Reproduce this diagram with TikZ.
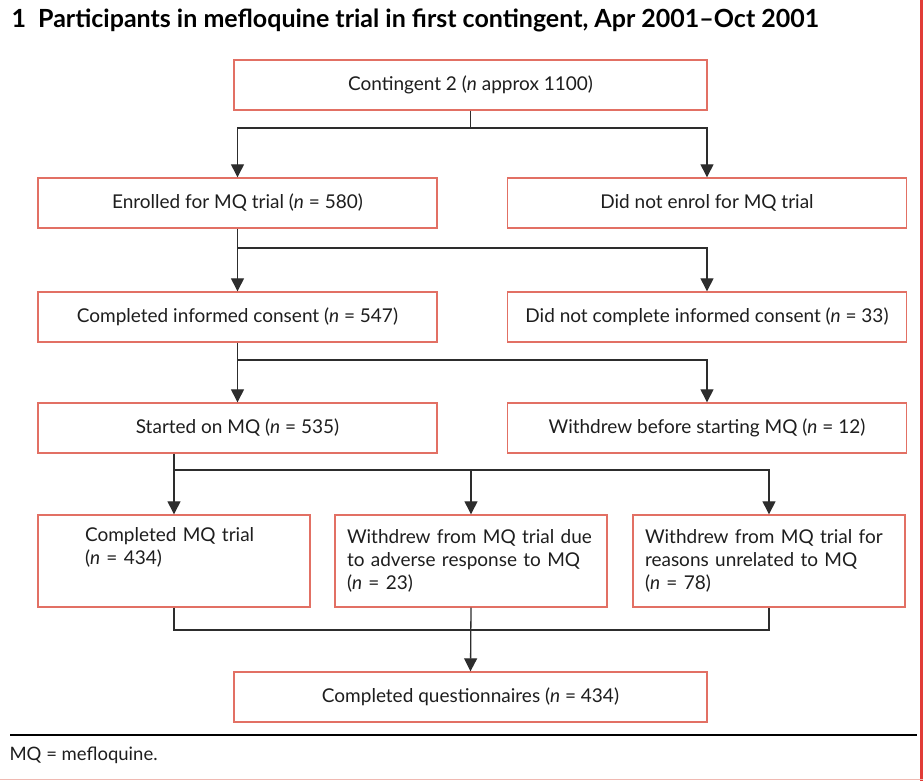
\documentclass[tikz,border=0pt]{standalone}
\usepackage{fontspec}
\setmainfont{Lato}
\usetikzlibrary{arrows.meta}
\definecolor{boxred}{RGB}{226,112,100}
\definecolor{edgered}{RGB}{225,60,55}
\definecolor{linegray}{RGB}{45,45,45}
\definecolor{txt}{RGB}{30,30,30}
\tikzset{
  box/.style={draw=boxred, line width=1.4pt, fill=white, inner sep=0pt, font=\fontsize{19}{23}\selectfont, text=txt},
  wide/.style={box, minimum width=399pt, minimum height=50pt},
  big/.style={box, minimum width=473pt, minimum height=50pt},
  tri/.style={box, minimum width=272pt, minimum height=92pt, align=left},
  conn/.style={draw=linegray, line width=1.3pt},
  arr/.style={conn, -{Triangle[width=13pt,length=13pt]}},
}
\begin{document}
\begin{tikzpicture}[x=1pt,y=-1pt]
\useasboundingbox (0,0) rectangle (923,781);
\fill[white] (0,0) rectangle (923,781);
\node[anchor=west, font=\fontsize{25}{28}\selectfont\bfseries, text=black] (title) at (8,20) {1\ \ Participants in mefloquine trial in first contingent, Apr 2001--Oct 2001};
\node[big] (top) at (470.5,85) {Contingent 2 (\textit{n} approx 1100)};
\node[wide] (r2l) at (237.5,203) {Enrolled for MQ trial (\textit{n} = 580)};
\node[wide] (r2r) at (707,203) {Did not enrol for MQ trial};
\node[wide] (r3l) at (237.5,317) {Completed informed consent (\textit{n} = 547)};
\node[wide] (r3r) at (707,317) {Did not complete informed consent (\textit{n} = 33)};
\node[wide] (r4l) at (237.5,428) {Started on MQ (\textit{n} = 535)};
\node[wide] (r4r) at (707,428) {Withdrew before starting MQ (\textit{n} = 12)};
\node[tri, text width=178pt] (r5a) at (174,561) {Completed MQ trial\\(\textit{n} = 434)\\\strut};
\node[tri, text width=248pt] (r5b) at (471,561) {Withdrew from MQ trial due\\to adverse response to MQ\\(\textit{n} = 23)};
\node[tri, text width=248pt] (r5c) at (769,561) {Withdrew from MQ trial for\\reasons unrelated to MQ\\(\textit{n} = 78)};
\node[big] (bot) at (470.5,697) {Completed questionnaires (\textit{n} = 434)};
% connectors
\coordinate (j1) at (470.5,128);
\draw[conn] (top.south) -- (j1);
\draw[arr] (j1) -| (r2l.north);
\draw[arr] (j1) -| (r2r.north);
\coordinate (j2) at (237.5,248);
\draw[arr] (r2l.south) -- (r3l.north);
\draw[arr] (j2) -| (r3r.north);
\coordinate (j3) at (237.5,360);
\draw[arr] (r3l.south) -- (r4l.north);
\draw[arr] (j3) -| (r4r.north);
\coordinate (j4) at (174,470);
\draw[arr] (r4l.south -| r5a.north) -- (r5a.north);
\draw[arr] (j4) -| (r5b.north);
\draw[arr] (j4) -| (r5c.north);
\coordinate (j5) at (174,630);
\draw[conn] (r5a.south) -- (j5) -| (r5c.south);
\draw[arr] (r5b.south) -- (bot.north);
% footer
\draw[line width=2.6pt, black] (10,735) -- (917,735);
\node[anchor=west, font=\fontsize{18.5}{22}\selectfont, text=txt] (foot) at (6,755) {MQ = mefloquine.};
\draw[edgered, line width=3pt] (921,0) -- (921,781);
\draw[boxred!50, line width=1.5pt] (0,779.5) -- (923,779.5);
\end{tikzpicture}
\end{document}
